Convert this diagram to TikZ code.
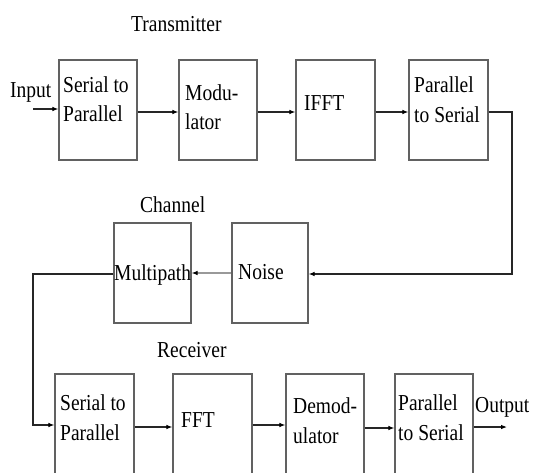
\documentclass[tikz,border=0pt]{standalone}
\usepackage{fontspec}
\setmainfont{Liberation Serif}
\usetikzlibrary{arrows.meta}
\newcommand{\tx}[1]{\scalebox{1}[1.17]{#1}}
\begin{document}
\begin{tikzpicture}[x=1pt,y=-1pt,
  box/.style={draw=black!62, line width=1.2pt, inner sep=0pt, minimum height=100pt},
  lbl/.style={anchor=base west, inner sep=0pt, text=black, font=\fontsize{19.5}{23}\selectfont},
  conn/.style={draw=black!85, line width=1.1pt, -{Latex[length=6pt,width=4.6pt,color=black]}}]
\clip (0,0) rectangle (535,472);
\fill[white] (0,0) rectangle (535,472);
% transmitter boxes
\node[box, minimum width=78pt] (ts) at (98,110) {};
\node[box, minimum width=78pt] (tm) at (218,110) {};
\node[box, minimum width=79pt] (ti) at (335.5,110) {};
\node[box, minimum width=79pt] (tp) at (448.5,110) {};
% channel boxes
\node[box, minimum width=77pt] (cm) at (152.5,273) {};
\node[box, minimum width=76pt] (cn) at (270,273) {};
% receiver boxes
\node[box, minimum width=79pt, minimum height=120pt] (rs) at (94.5,434) {};
\node[box, minimum width=79pt, minimum height=120pt] (rf) at (212.5,434) {};
\node[box, minimum width=78pt, minimum height=120pt] (rd) at (325,434) {};
\node[box, minimum width=78pt, minimum height=120pt] (rp) at (434,434) {};
% labels
\node[lbl] (tTitle) at (131,31) {\tx{Transmitter}};
\node[lbl] (tIn) at (10,97) {\tx{Input}};
\node[lbl] (ts1) at (63,92) {\tx{Serial to}};
\node[lbl] (ts2) at (63,121) {\tx{Parallel}};
\node[lbl] (tm1) at (185,100) {\tx{Modu-}};
\node[lbl] (tm2) at (185,129) {\tx{lator}};
\node[lbl] (ti1) at (304,110) {\tx{IFFT}};
\node[lbl] (tp1) at (414,92) {\tx{Parallel}};
\node[lbl] (tp2) at (414,122) {\tx{to Serial}};
\node[lbl] (cTitle) at (140,212) {\tx{Channel}};
\node[lbl] (cm1) at (114,280) {\tx{Multipath}};
\node[lbl] (cn1) at (238,279) {\tx{Noise}};
\node[lbl] (rTitle) at (157,357) {\tx{Receiver}};
\node[lbl] (rs1) at (60,410) {\tx{Serial to}};
\node[lbl] (rs2) at (60,440) {\tx{Parallel}};
\node[lbl] (rf1) at (181,427) {\tx{FFT}};
\node[lbl] (rd1) at (293,413) {\tx{Demod-}};
\node[lbl] (rd2) at (293,443) {\tx{ulator}};
\node[lbl] (rp1) at (398,410) {\tx{Parallel}};
\node[lbl] (rp2) at (398,440) {\tx{to Serial}};
\node[lbl] (rOut) at (475,412) {\tx{Output}};
% connectors
\coordinate (in) at (33,109);
\draw[conn] (in) -- (in -| ts.west);
\draw[conn] ([yshift=-2pt]ts.east) -- ([yshift=-2pt]tm.west);
\draw[conn] ([yshift=-2pt]tm.east) -- ([yshift=-2pt]ti.west);
\draw[conn] ([yshift=-2pt]ti.east) -- ([yshift=-2pt]tp.west);
\coordinate (turn1) at (512,274);
\draw[conn] ([yshift=-2pt]tp.east) -| (turn1) -- (cn.east |- turn1);
\draw[conn, draw=black!40] (cn.west) -- (cm.east);
\coordinate (turn2) at (33,274);
\draw[conn] (cm.west |- turn2) -- (turn2) |- ([yshift=9pt]rs.west);
\draw[conn] ([yshift=7pt]rs.east) -- ([yshift=7pt]rf.west);
\draw[conn] ([yshift=9pt]rf.east) -- ([yshift=9pt]rd.west);
\draw[conn] ([yshift=6pt]rd.east) -- ([yshift=6pt]rp.west);
\coordinate (out) at (507,427);
\draw[conn] (rp.east |- out) -- (out);
\end{tikzpicture}
\end{document}
